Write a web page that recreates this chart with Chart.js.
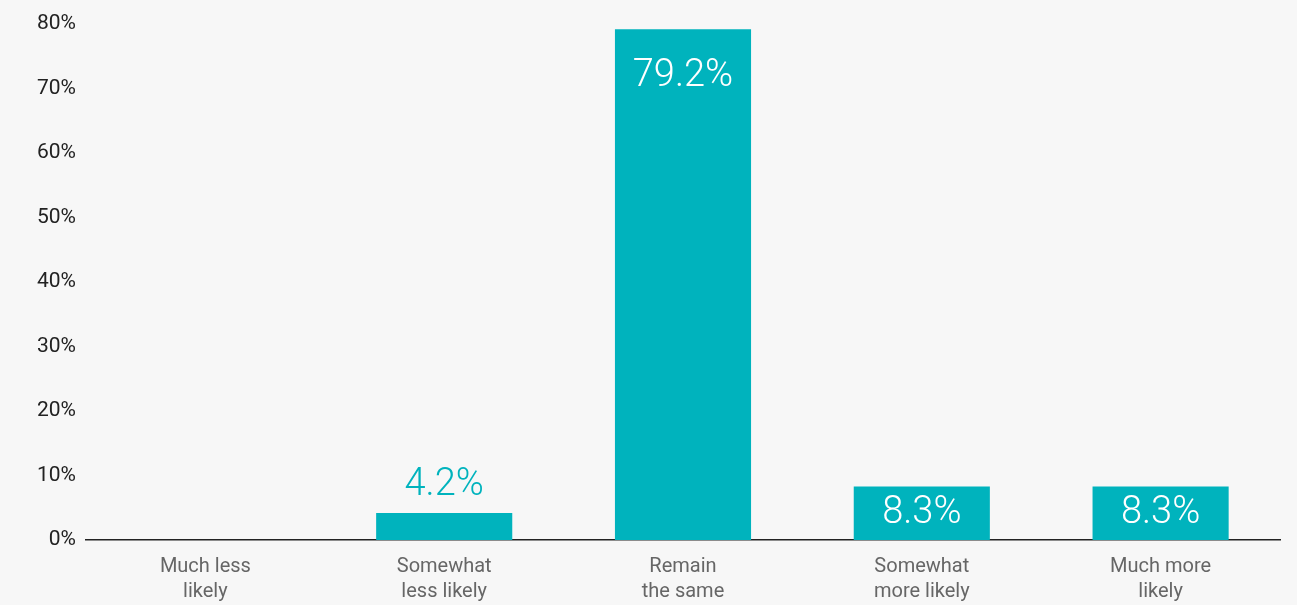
<!DOCTYPE html>
<html>
<head>
<meta charset="utf-8">
<script src="https://cdn.jsdelivr.net/npm/chart.js@4/dist/chart.umd.min.js"></script>
<style>
  html, body { margin: 0; padding: 0; background: #f7f7f7; }
  #wrap { width: 1297px; height: 605px; position: relative; }
</style>
</head>
<body>
<div id="wrap"><canvas id="c" width="1297" height="605"></canvas></div>
<script>
const categories = [
  ["Much less", "likely"],
  ["Somewhat", "less likely"],
  ["Remain", "the same"],
  ["Somewhat", "more likely"],
  ["Much more", "likely"]
];
const values = [0, 4.2, 79.2, 8.3, 8.3];
const yTicks = [0, 10, 20, 30, 40, 50, 60, 70, 80];

const TEAL = '#00b3bd';
const FONT = 'Roboto, "Open Sans", sans-serif';

const valueLabels = {
  id: 'valueLabels',
  afterDatasetsDraw(chart) {
    const ctx = chart.ctx;
    const meta = chart.getDatasetMeta(0);
    ctx.save();
    ctx.font = '300 38px ' + FONT;
    ctx.textAlign = 'center';
    ctx.textBaseline = 'middle';
    meta.data.forEach((bar, i) => {
      const v = values[i];
      if (!v) return;
      const txt = v.toFixed(1) + '%';
      const h = bar.base - bar.y;
      if (h < 40) {
        ctx.fillStyle = TEAL;
        ctx.fillText(txt, bar.x, bar.y - 27);
      } else {
        ctx.fillStyle = '#ffffff';
        const cy = Math.min(bar.y + 47, (bar.y + bar.base) / 2);
        ctx.fillText(txt, bar.x, cy);
      }
    });
    ctx.restore();
  }
};

new Chart(document.getElementById('c'), {
  type: 'bar',
  data: {
    labels: categories,
    datasets: [{
      data: values,
      backgroundColor: TEAL,
      borderWidth: 0,
      categoryPercentage: 1,
      barPercentage: 0.57
    }]
  },
  options: {
    responsive: false,
    animation: false,
    layout: { padding: { top: 24, right: 17, bottom: 0, left: 0 } },
    plugins: { legend: { display: false }, tooltip: { enabled: false } },
    scales: {
      x: {
        grid: { display: false, drawTicks: false },
        border: { display: true, color: '#222222', width: 1.5 },
        ticks: {
          color: '#666666',
          font: { family: FONT, size: 20, lineHeight: 1.25 },
          padding: 14,
          maxRotation: 0,
          autoSkip: false
        },
        afterFit(s) { s.height = 65; }
      },
      y: {
        min: 0, max: 80,
        afterBuildTicks(s) { s.ticks = yTicks.map(v => ({ value: v })); },
        grid: { display: false, drawTicks: false },
        border: { display: false },
        ticks: {
          color: '#222222',
          font: { family: FONT, size: 21 },
          padding: 10,
          callback: v => v + '%'
        },
        afterFit(s) { s.width = 86; }
      }
    }
  },
  plugins: [valueLabels]
});
</script>
</body>
</html>
